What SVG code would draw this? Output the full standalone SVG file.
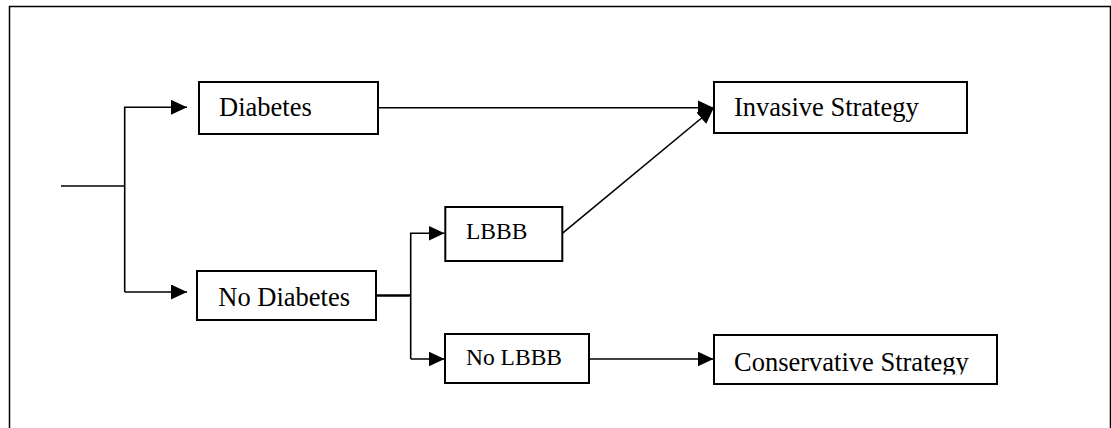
<svg xmlns="http://www.w3.org/2000/svg" width="1111" height="428" viewBox="0 0 1111 428">
  <style>
    .box { fill: #fff; stroke: #000; stroke-width: 2; }
    .lbl { font-family: "Liberation Serif", "Times New Roman", serif; font-size: 26.5px; fill: #000; }
    .lbl-sm { font-family: "Liberation Serif", "Times New Roman", serif; font-size: 23.5px; fill: #000; }
    .wire { fill: none; stroke: #000; stroke-width: 1.6; }
    .wire-thick { fill: none; stroke: #000; stroke-width: 2.6; }
  </style>
  <defs>
    <marker id="arrow" markerUnits="userSpaceOnUse" markerWidth="16" markerHeight="15" viewBox="0 0 16 15" refX="16" refY="7.5" orient="auto">
      <path d="M0,0 L16,7.5 L0,15 z" fill="#000"/>
    </marker>
    <clipPath id="cons-clip">
      <rect x="714" y="335" width="283" height="39.5"/>
    </clipPath>
  </defs>

  <rect width="1111" height="428" fill="#fff"/>

  <!-- page frame -->
  <path d="M9.5,440 V6.5 H1110.5 V440" fill="none" stroke="#000" stroke-width="1.5"/>

  <!-- connectors -->
  <g id="connectors">
    <path class="wire" d="M61,186 H124.7"/>
    <path class="wire" d="M124.7,292 V107.3 H187" marker-end="url(#arrow)"/>
    <path class="wire" d="M124.7,292 H187" marker-end="url(#arrow)"/>
    <path class="wire" d="M378,107.7 H713.5" marker-end="url(#arrow)"/>
    <path class="wire" d="M562.3,233.3 L713.7,108" marker-end="url(#arrow)"/>
    <path class="wire-thick" d="M376,295.5 H410.7"/>
    <path class="wire" d="M410.7,359 V233.3 H444.5" marker-end="url(#arrow)"/>
    <path class="wire" d="M410.7,359 H444.5" marker-end="url(#arrow)"/>
    <path class="wire" d="M589,359 H713.5" marker-end="url(#arrow)"/>
  </g>

  <g id="diabetes">
    <rect class="box" x="199" y="82" width="179" height="52"/>
    <text class="lbl" x="219" y="116">Diabetes</text>
  </g>

  <g id="no-diabetes">
    <rect class="box" x="197" y="271" width="179" height="49"/>
    <text class="lbl" x="218.3" y="306">No Diabetes</text>
  </g>

  <g id="lbbb">
    <rect class="box" x="445.3" y="207" width="117" height="54"/>
    <text class="lbl-sm" x="466" y="239.3">LBBB</text>
  </g>

  <g id="no-lbbb">
    <rect class="box" x="445" y="334" width="144" height="49"/>
    <text class="lbl-sm" x="466" y="365.3">No LBBB</text>
  </g>

  <g id="invasive">
    <rect class="box" x="714" y="82" width="253" height="51"/>
    <text class="lbl" x="734" y="116">Invasive Strategy</text>
  </g>

  <g id="conservative">
    <rect class="box" x="714" y="335" width="283" height="49"/>
    <text class="lbl" x="734" y="371" clip-path="url(#cons-clip)">Conservative Strategy</text>
  </g>
</svg>
